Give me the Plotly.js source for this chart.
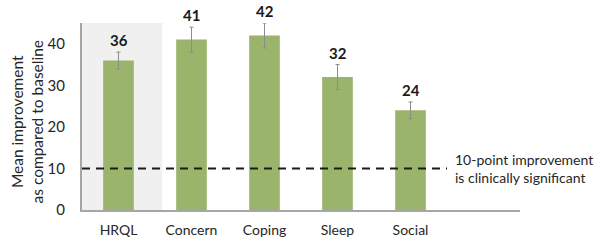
<!DOCTYPE html>
<html><head><meta charset="utf-8">
<script src="https://cdn.plot.ly/plotly-3.0.1.min.js"></script>
<style>html,body{margin:0;padding:0;background:#fff}</style>
</head><body>
<div id="chart" style="width:602px;height:240px"></div>
<script>
const categories = ["HRQL", "Concern", "Coping", "Sleep", "Social"];
const values = [36, 41, 42, 32, 24];
const errors = [2, 3, 3, 3, 2];
const threshold = 10;
const thresholdLabel = "10-point improvement<br>is clinically significant";
const yTitle = "Mean improvement<br>as compared to baseline";

const FONT = "Lato, 'Open Sans', sans-serif";
const xs = categories.map((c, i) => i);

const bars = {
  type: "bar", x: xs, y: values, width: 0.42,
  marker: {color: "#9bb46b"},
  error_y: {type: "data", array: errors, visible: true, color: "#8c8c8c", thickness: 1, width: 2},
  hoverinfo: "skip"
};

const annotations = values.map((v, i) => ({
  x: i, y: v + errors[i], xref: "x", yref: "y", text: "<b>" + v + "</b>",
  showarrow: false, yanchor: "bottom", yshift: 1, font: {family: FONT, size: 15, color: "#1a1a1a"}
}));
annotations.push({
  x: categories.length - 0.5, y: threshold, xref: "x", yref: "y", text: thresholdLabel,
  showarrow: false, xanchor: "left", xshift: 6, align: "left", yanchor: "middle",
  font: {family: FONT, size: 14, color: "#262626"}
});
annotations.push({
  x: 0, y: 0.5, xref: "paper", yref: "paper", text: yTitle, textangle: -90,
  showarrow: false, xanchor: "center", xshift: -56, yshift: -5,
  font: {family: FONT, size: 15.5, color: "#262626"}
});

const layout = {
  width: 602, height: 240,
  margin: {l: 82, r: 82, t: 23, b: 30},
  paper_bgcolor: "#fff", plot_bgcolor: "rgba(0,0,0,0)",
  showlegend: false,
  font: {family: FONT, size: 14, color: "#262626"},
  xaxis: {
    range: [-0.5, categories.length + 0.5], tickmode: "array", tickvals: xs, ticktext: categories,
    showgrid: false, zeroline: false, showline: true, linecolor: "#a6a6a6", linewidth: 2,
    ticks: "", ticklabelstandoff: 6, fixedrange: true
  },
  yaxis: {
    range: [0, 45], tickvals: [0, 10, 20, 30, 40], showgrid: false, zeroline: false,
    showline: true, linecolor: "#a6a6a6", linewidth: 2, ticks: "", ticklabelstandoff: 12,
    tickfont: {family: FONT, size: 15, color: "#262626"}, fixedrange: true
  },
  shapes: [
    {type: "rect", xref: "x", yref: "paper", x0: -0.5, x1: 0.6, y0: 0, y1: 1,
     fillcolor: "#f0f0f0", line: {width: 0}, layer: "below"},
    {type: "line", xref: "x", yref: "y", x0: -0.5, x1: categories.length - 0.5, y0: threshold, y1: threshold,
     line: {color: "#1a1a1a", width: 2, dash: "8px,6px"}, layer: "above"}
  ],
  annotations: annotations
};

Plotly.newPlot("chart", [bars], layout, {displayModeBar: false, staticPlot: true});
</script>
</body></html>
